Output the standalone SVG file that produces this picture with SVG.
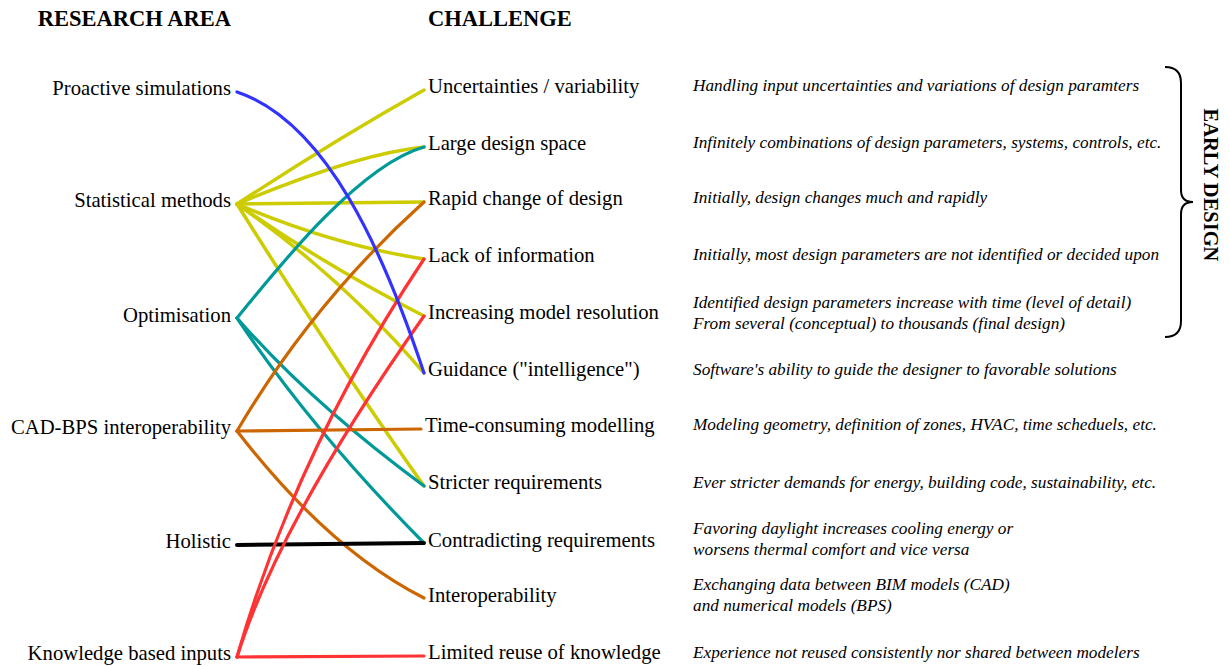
<svg xmlns="http://www.w3.org/2000/svg" width="1230" height="666" viewBox="0 0 1230 666">
<style>
text{font-family:"Liberation Serif","Times New Roman",serif;fill:#000}
.hd{font-size:22.5px;font-weight:bold}
.lbl{font-size:20.7px}
.l{text-anchor:end}
.desc{font-size:17.25px;font-style:italic}
.c{fill:none;stroke-width:3.2;stroke-linecap:round}
.y{stroke:#cccc00;stroke-width:3.5}
.b{stroke:#3333ff}
.t{stroke:#009999}
.o{stroke:#cc6600}
.r{stroke:#ff3333}
.k{stroke:#000;stroke-width:4}
</style>
<rect width="1230" height="666" fill="#fff"/>
<g id="headers">
<text class="hd l" x="231" y="26">RESEARCH AREA</text>
<text class="hd" x="428" y="26">CHALLENGE</text>
</g>
<g id="connectors">
<path class="c y" d="M237,204 Q335,140 424,90"/>
<path class="c y" d="M237,204 Q356,154 424,147"/>
<path class="c y" d="M237,204 L424,202"/>
<path class="c y" d="M237,204 Q333,245 424,259"/>
<path class="c y" d="M237,204 Q326,266 424,316"/>
<path class="c y" d="M237,204 Q342,277 424,373"/>
<path class="c y" d="M237,204 Q336,362 424,486"/>
<path class="c t" d="M237,318 C280,265 360,165 424,147"/>
<path class="c t" d="M237,318 Q310,402 424,486"/>
<path class="c t" d="M237,318 Q312,430 424,543"/>
<path class="c o" d="M237,431 Q313,302 424,202"/>
<path class="c o" d="M237,431 L421,429"/>
<path class="c o" d="M237,431 Q329,550 424,598"/>
<path class="c k" d="M237,545 L424,543"/>
<path class="c r" d="M237,657 Q296,451 424,259"/>
<path class="c r" d="M237,657 Q280,520 424,316"/>
<path class="c r" d="M237,657 L424,656"/>
<path class="c b" d="M237,92 C327,122 384,253 424,373"/>
</g>
<g id="ra-proactive"><text class="lbl l" x="231" y="95">Proactive simulations</text></g>
<g id="ra-statistical"><text class="lbl l" x="231" y="207">Statistical methods</text></g>
<g id="ra-optimisation"><text class="lbl l" x="231" y="322">Optimisation</text></g>
<g id="ra-cadbps"><text class="lbl l" x="231" y="434">CAD-BPS interoperability</text></g>
<g id="ra-holistic"><text class="lbl l" x="231" y="548">Holistic</text></g>
<g id="ra-knowledge"><text class="lbl l" x="231" y="660">Knowledge based inputs</text></g>
<g id="ch-uncertainties"><text class="lbl" x="428" y="93">Uncertainties / variability</text>
<text class="desc" x="693" y="91">Handling input uncertainties and variations of design paramters</text></g>
<g id="ch-large"><text class="lbl" x="428" y="150">Large design space</text>
<text class="desc" x="693" y="148">Infinitely combinations of design parameters, systems, controls, etc.</text></g>
<g id="ch-rapid"><text class="lbl" x="428" y="205">Rapid change of design</text>
<text class="desc" x="693" y="203">Initially, design changes much and rapidly</text></g>
<g id="ch-lack"><text class="lbl" x="428" y="262">Lack of information</text>
<text class="desc" x="693" y="260">Initially, most design parameters are not identified or decided upon</text></g>
<g id="ch-increasing"><text class="lbl" x="428" y="319">Increasing model resolution</text>
<text class="desc" x="693" y="308">Identified design parameters increase with time (level of detail)</text>
<text class="desc" x="693" y="329">From several (conceptual) to thousands (final design)</text></g>
<g id="ch-guidance"><text class="lbl" x="428" y="376">Guidance ("intelligence")</text>
<text class="desc" x="693" y="375">Software's ability to guide the designer to favorable solutions</text></g>
<g id="ch-time"><text class="lbl" x="425" y="432">Time-consuming modelling</text>
<text class="desc" x="693" y="430">Modeling geometry, definition of zones, HVAC, time scheduels, etc.</text></g>
<g id="ch-stricter"><text class="lbl" x="428" y="489">Stricter requirements</text>
<text class="desc" x="693" y="488">Ever stricter demands for energy, building code, sustainability, etc.</text></g>
<g id="ch-contradicting"><text class="lbl" x="428" y="547">Contradicting requirements</text>
<text class="desc" x="693" y="534">Favoring daylight increases cooling energy or</text>
<text class="desc" x="693" y="555">worsens thermal comfort and vice versa</text></g>
<g id="ch-interop"><text class="lbl" x="428" y="602">Interoperability</text>
<text class="desc" x="693" y="590">Exchanging data between BIM models (CAD)</text>
<text class="desc" x="693" y="611">and numerical models (BPS)</text></g>
<g id="ch-limited"><text class="lbl" x="428" y="659">Limited reuse of knowledge</text>
<text class="desc" x="693" y="658">Experience not reused consistently nor shared between modelers</text></g>
<g id="early-design">
<path d="M1165,67 Q1181,67 1181,83 L1181,190 Q1181,202 1193,202 Q1181,202 1181,214 L1181,321 Q1181,337 1165,337" fill="none" stroke="#000" stroke-width="2"/>
<text class="hd" style="font-size:20.5px;text-anchor:middle" transform="translate(1204,185) rotate(90)">EARLY DESIGN</text>
</g>
</svg>
